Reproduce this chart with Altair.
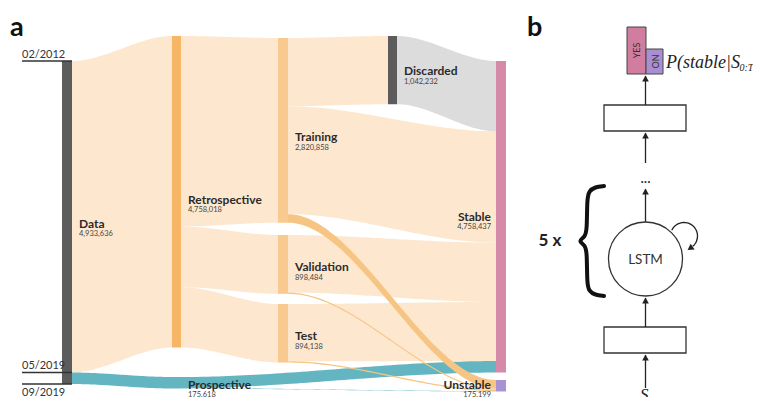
import altair as alt
import numpy as np
import pandas as pd

# ---------------- data ----------------
node_names = ["Data", "Retrospective", "Prospective", "Training", "Validation",
              "Test", "Discarded", "Stable", "Unstable"]
node_values = [4933636, 4758018, 175618, 2820858, 898484, 894138, 1042232, 4758437, 175199]

link_source = ["Data", "Data", "Retrospective", "Retrospective", "Retrospective",
               "Training", "Discarded", "Training", "Validation", "Test", "Prospective",
               "Training", "Validation", "Test", "Prospective"]
link_target = ["Retrospective", "Prospective", "Training", "Validation", "Test",
               "Discarded", "Stable", "Stable", "Stable", "Stable", "Stable",
               "Unstable", "Unstable", "Unstable", "Unstable"]
link_value = [4758018, 175618, 2820858, 898484, 894138,
              1042232, 1042232, 1648626, 878484, 874138, 170419,
              130000, 20000, 20000, 5199]

date_labels = ["02/2012", "05/2019", "09/2019"]

# ---------------- layout (reference pixel coordinates) ----------------
col_x = {"Data": 62, "Retrospective": 172, "Prospective": 172, "Training": 278,
         "Validation": 278, "Test": 278, "Discarded": 388, "Stable": 496, "Unstable": 496}
node_w = {"Data": 10, "Retrospective": 9, "Prospective": 9, "Training": 10,
          "Validation": 10, "Test": 10, "Discarded": 9, "Stable": 10, "Unstable": 10}
node_top = {"Data": 61, "Retrospective": 36, "Prospective": 377, "Training": 38,
            "Validation": 235, "Test": 304, "Discarded": 36, "Stable": 61, "Unstable": 380}
node_color = {"Data": "#5c5c5c", "Retrospective": "#f6b665", "Prospective": "#62b5c1",
              "Training": "#f8ca8f", "Validation": "#f8ca8f", "Test": "#f8ca8f",
              "Discarded": "#5c5c5c", "Stable": "#d48aa8", "Unstable": "#a892d2"}
label_dy = {"Data": 1, "Retrospective": 8, "Prospective": 2, "Training": 7,
            "Validation": 3, "Test": 3, "Discarded": 1, "Stable": 0, "Unstable": -1}

value_of = dict(zip(node_names, node_values))
k = 323.0 / value_of["Data"]          # pixels per record
node_h = {n: value_of[n] * k for n in node_names}

out_sum, in_sum = {}, {}
for s, t, v in zip(link_source, link_target, link_value):
    out_sum[s] = out_sum.get(s, 0) + v
    in_sum[t] = in_sum.get(t, 0) + v

def kind_of(s, t):
    if s == "Prospective" or t == "Prospective":
        return "teal"
    if s == "Discarded":
        return "gray"
    if t == "Unstable":
        return "orange"
    return "peach"

out_off = {n: 0.0 for n in node_names}
in_off = {n: 0.0 for n in node_names}
rows = []
for i, (s, t, v) in enumerate(zip(link_source, link_target, link_value)):
    hs = node_h[s] * v / out_sum[s]
    ht = node_h[t] * v / in_sum[t]
    ys0 = node_top[s] + out_off[s]
    out_off[s] += hs
    yt0 = node_top[t] + in_off[t]
    in_off[t] += ht
    x0 = col_x[s] + node_w[s]
    x1 = col_x[t]
    for tt in np.linspace(0, 1, 61):
        e = tt * tt * (3 - 2 * tt)
        rows.append(dict(link=i, kind=kind_of(s, t), x=x0 + (x1 - x0) * tt,
                         y=ys0 + (yt0 - ys0) * e,
                         y2=ys0 + hs + (yt0 + ht - ys0 - hs) * e))
links_df = pd.DataFrame(rows)

nodes = []
for n, v in zip(node_names, node_values):
    y0 = node_top[n]
    y1 = y0 + node_h[n]
    right = n in ("Stable", "Unstable")
    lx = col_x[n] - 5 if right else col_x[n] + node_w[n] + 7
    cy = (y0 + y1) / 2 + label_dy[n]
    nodes.append(dict(name=n, x=col_x[n], x2=col_x[n] + node_w[n], y=y0, y2=y1,
                      lx=lx, ly=cy, ly2=cy + 10.5, num=f"{v:,}", right=right))
nodes_df = pd.DataFrame(nodes)

d_top = node_top["Data"]
d_split = d_top + value_of["Retrospective"] * k
d_bot = d_top + node_h["Data"]
dates_df = pd.DataFrame(dict(label=date_labels, y=[d_top, d_split, d_bot],
                             ty=[d_top - 1.5, d_split - 1.5, d_bot + 2.5],
                             base=["bottom", "bottom", "top"],
                             x=[22] * 3, x2=[col_x["Data"] + node_w["Data"]] * 3))

# ---------------- scales ----------------
xs = alt.Scale(domain=[8, 753], range=[0, 745], nice=False, zero=False)
ys = alt.Scale(domain=[8, 397], range=[0, 389], nice=False, zero=False)

def X(f="x"):
    return alt.X(f"{f}:Q", scale=xs, axis=None)

def Y(f="y"):
    return alt.Y(f"{f}:Q", scale=ys, axis=None)

FONT = "Lato"
INK = "#2b2b2b"

layers = []
base_links = alt.Chart(links_df)
kind_colors = {"peach": "#fde8cf", "gray": "#dcdcdd", "teal": "#62b5c1", "orange": "#f6c584"}
for kd in ["peach", "gray", "teal", "orange"]:
    layers.append(base_links.transform_filter(alt.datum.kind == kd)
                  .mark_area(color=kind_colors[kd], opacity=1, interpolate="linear")
                  .encode(x=X(), y=Y(), y2=alt.Y2("y2:Q"), detail="link:N"))

node_base = alt.Chart(nodes_df)
for n, c in node_color.items():
    layers.append(node_base.transform_filter(alt.datum.name == n)
                  .mark_rect(opacity=1, color=c)
                  .encode(x=X(), x2=alt.X2("x2:Q"), y=Y(), y2=alt.Y2("y2:Q")))
for right in (False, True):
    sub = node_base.transform_filter(alt.datum.right == right)
    al = "right" if right else "left"
    layers.append(sub.mark_text(font=FONT, fontWeight="bold", fontSize=12, color=INK,
                                align=al, baseline="middle")
                  .encode(x=X("lx"), y=Y("ly"), text="name:N"))
    layers.append(sub.mark_text(font=FONT, fontSize=7.5, color="#444", align=al,
                                baseline="middle")
                  .encode(x=X("lx"), y=Y("ly2"), text="num:N"))

date_base = alt.Chart(dates_df)
layers.append(date_base.mark_rule(color="#333", strokeWidth=1.6)
              .encode(x=X(), x2=alt.X2("x2:Q"), y=Y()))
for b in ("bottom", "top"):
    layers.append(date_base.transform_filter(alt.datum.base == b)
                  .mark_text(font=FONT, fontSize=11, color="#333", align="left", baseline=b)
                  .encode(x=X(), y=Y("ty"), text="label:N"))

# panel letters
letters_df = pd.DataFrame(dict(t=["a", "b"], x=[10, 527], y=[36, 36]))
layers.append(alt.Chart(letters_df).mark_text(font=FONT, fontWeight="bold", fontSize=27,
                                               color="#111", align="left",
                                               baseline="alphabetic")
              .encode(x=X(), y=Y(), text="t:N"))

# ---------------- panel b : schematic ----------------
boxes_df = pd.DataFrame(dict(x=[604, 604], x2=[686, 686], y=[105, 327], y2=[131, 353]))
layers.append(alt.Chart(boxes_df).mark_rect(fill="white", stroke="#333", strokeWidth=1.3)
              .encode(x=X(), x2=alt.X2("x2:Q"), y=Y(), y2=alt.Y2("y2:Q")))

out_df = pd.DataFrame(dict(lab=["YES", "NO"], x=[627, 646], x2=[646, 663],
                           y=[27, 49], y2=[74, 74], cx=[636.5, 654.5], cy=[50.5, 61.5]))
out_fill = {"YES": "#d17d9f", "NO": "#a98fd1"}
out_angle = {"YES": 270, "NO": 90}
for lab in ("YES", "NO"):
    sub = alt.Chart(out_df).transform_filter(alt.datum.lab == lab)
    layers.append(sub.mark_rect(fill=out_fill[lab], stroke="#444", strokeWidth=1)
                  .encode(x=X(), x2=alt.X2("x2:Q"), y=Y(), y2=alt.Y2("y2:Q")))
    layers.append(sub.mark_text(font=FONT, fontSize=9, color="#333", angle=out_angle[lab],
                                baseline="middle")
                  .encode(x=X("cx"), y=Y("cy"), text="lab:N"))

arrows_df = pd.DataFrame(dict(x=[645.5] * 5, y=[105, 163, 222, 327, 388],
                              y2=[76, 133, 189, 298, 355]))
layers.append(alt.Chart(arrows_df).mark_rule(color="#222", strokeWidth=1.3)
              .encode(x=X(), y=Y(), y2=alt.Y2("y2:Q")))
heads_df = pd.DataFrame(dict(x=[645.5] * 5, y=[78.5, 135.5, 191.5, 300.5, 357.5]))
layers.append(alt.Chart(heads_df).mark_point(shape="triangle-up", filled=True, size=45,
                                             color="#222", opacity=1)
              .encode(x=X(), y=Y()))

circle_df = pd.DataFrame(dict(x=[645.5], y=[259.0]))
layers.append(alt.Chart(circle_df).mark_point(shape="circle", filled=False, size=74 * 74,
                                              color="#333", strokeWidth=1.3, opacity=1)
              .encode(x=X(), y=Y()))

# self loop
th = np.deg2rad(np.linspace(205, 410, 60))
loop_df = pd.DataFrame(dict(x=684 + 13.5 * np.cos(th), y=236 + 13.5 * np.sin(th),
                            o=np.arange(60)))
layers.append(alt.Chart(loop_df).mark_line(color="#222", strokeWidth=1.3)
              .encode(x=X(), y=Y(), order="o:Q"))
loop_head = pd.DataFrame(dict(x=[684 + 13.5 * np.cos(np.deg2rad(413)) - 2.0],
                              y=[236 + 13.5 * np.sin(np.deg2rad(413)) + 1.5]))
layers.append(alt.Chart(loop_head).mark_point(shape="triangle-up", filled=True, size=50,
                                              color="#222", opacity=1, angle=235)
              .encode(x=X(), y=Y()))

# brace
brace_x = [604, 595, 589, 587, 587, 585, 578, 585, 587, 587, 589, 595, 604]
brace_y = [186, 187, 191, 199, 230, 237, 241, 245, 252, 284, 291, 295, 296]
brace_df = pd.DataFrame(dict(x=brace_x, y=brace_y, o=range(len(brace_x))))
layers.append(alt.Chart(brace_df).mark_line(color="#111", strokeWidth=4,
                                            interpolate="basis", strokeCap="round")
              .encode(x=X(), y=Y(), order="o:Q"))

texts_b = pd.DataFrame(dict(t=["LSTM", "5 x", "···"], x=[645.5, 550, 645.5],
                            y=[260, 241, 182]))
layers.append(alt.Chart(texts_b).transform_filter(alt.datum.t == "LSTM")
              .mark_text(font=FONT, fontSize=13.5, color="#333", baseline="middle")
              .encode(x=X(), y=Y(), text="t:N"))
layers.append(alt.Chart(texts_b).transform_filter(alt.datum.t == "5 x")
              .mark_text(font=FONT, fontSize=17, fontWeight="bold", color="#222",
                         baseline="middle")
              .encode(x=X(), y=Y(), text="t:N"))
layers.append(alt.Chart(texts_b).transform_filter(alt.datum.t == "···")
              .mark_text(font=FONT, fontSize=13, color="#333", baseline="middle")
              .encode(x=X(), y=Y(), text="t:N"))

serif = "Liberation Serif"
math_df = pd.DataFrame(dict(t=["P(stable|S", "0:T", ")", "S", "t"],
                            x=[666, 739.5, 756, 640, 650],
                            y=[68, 71, 68, 400, 403],
                            fs=[18, 10, 18, 17, 10]))
for fs in (18, 17, 10):
    layers.append(alt.Chart(math_df).transform_filter(alt.datum.fs == fs)
                  .mark_text(font=serif, fontStyle="italic", fontSize=fs, color="#222",
                             align="left", baseline="alphabetic")
                  .encode(x=X(), y=Y(), text="t:N"))

chart = alt.layer(*layers).properties(
    width=745, height=389, padding=0, autosize="none"
).configure_view(stroke=None)

chart.save("out.html", embed_options={"renderer": "svg", "actions": False})
